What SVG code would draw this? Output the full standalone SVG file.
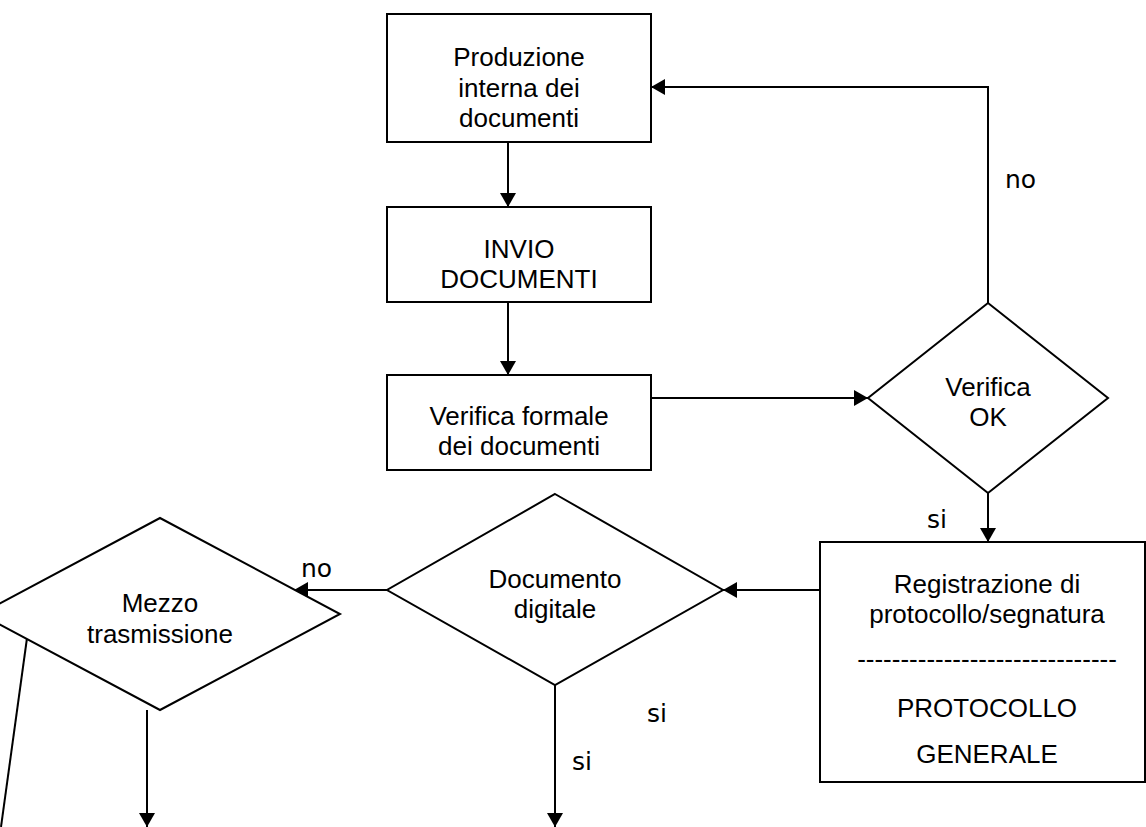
<svg xmlns="http://www.w3.org/2000/svg" width="1146" height="827" viewBox="0 0 1146 827">
<defs>
<style>
.n{fill:#fff;stroke:#000;stroke-width:2}
.c{fill:none;stroke:#000;stroke-width:2}
.t{font-family:"Liberation Sans",Arial,sans-serif;font-size:26px;fill:#000;text-anchor:middle}
.l{font-family:"DejaVu Sans",sans-serif;font-size:25px;fill:#000}
</style>
<marker id="ah" viewBox="0 0 14 16" refX="14" refY="8" markerWidth="14" markerHeight="16" markerUnits="userSpaceOnUse" orient="auto">
<path d="M0,0 L14,8 L0,16 Z" fill="#000"/>
</marker>
</defs>
<rect width="1146" height="827" fill="#fff"/>
<g id="connectors">
<line class="c" x1="508" y1="142" x2="508" y2="207" marker-end="url(#ah)"/>
<line class="c" x1="508" y1="302" x2="508" y2="375" marker-end="url(#ah)"/>
<line class="c" x1="651" y1="398" x2="868" y2="398" marker-end="url(#ah)"/>
<polyline class="c" points="988,303 988,87 651,87" marker-end="url(#ah)"/>
<line class="c" x1="988" y1="493" x2="988" y2="542" marker-end="url(#ah)"/>
<line class="c" x1="820" y1="590" x2="723" y2="590" marker-end="url(#ah)"/>
<line class="c" x1="387" y1="590" x2="294" y2="590" marker-end="url(#ah)"/>
<line class="c" x1="555" y1="685" x2="555" y2="827" marker-end="url(#ah)"/>
<line class="c" x1="147" y1="710" x2="147" y2="827" marker-end="url(#ah)"/>
<line class="c" x1="27" y1="638" x2="1" y2="827"/>
<text class="l" x="1005" y="188">no</text>
<text class="l" x="927" y="528">si</text>
<text class="l" x="301" y="577">no</text>
<text class="l" x="647" y="722">si</text>
<text class="l" x="572" y="770">si</text>
</g>
<g id="produzione">
<rect class="n" x="387" y="14" width="264" height="128"/>
<text class="t" x="519" y="66">Produzione</text>
<text class="t" x="519" y="97">interna dei</text>
<text class="t" x="519" y="127">documenti</text>
</g>
<g id="invio">
<rect class="n" x="387" y="207" width="264" height="95"/>
<text class="t" x="519" y="258">INVIO</text>
<text class="t" x="519" y="288">DOCUMENTI</text>
</g>
<g id="verifica-formale">
<rect class="n" x="387" y="375" width="264" height="95"/>
<text class="t" x="519" y="425">Verifica formale</text>
<text class="t" x="519" y="455">dei documenti</text>
</g>
<g id="verifica-ok">
<polygon class="n" points="988,303 1108,398 988,493 868,398"/>
<text class="t" x="988" y="396">Verifica</text>
<text class="t" x="988" y="426">OK</text>
</g>
<g id="registrazione">
<rect class="n" x="820" y="542" width="325" height="240"/>
<text class="t" x="987" y="593">Registrazione di</text>
<text class="t" x="987" y="623">protocollo/segnatura</text>
<text class="t" x="987" y="668">------------------------------</text>
<text class="t" x="987" y="717">PROTOCOLLO</text>
<text class="t" x="987" y="763">GENERALE</text>
</g>
<g id="documento-digitale">
<polygon class="n" points="555,494 723,590 555,685 387,590"/>
<text class="t" x="555" y="588">Documento</text>
<text class="t" x="555" y="618">digitale</text>
</g>
<g id="mezzo-trasmissione">
<polygon class="n" points="160,518 340,614 160,710 -20,614"/>
<text class="t" x="160" y="612">Mezzo</text>
<text class="t" x="160" y="643">trasmissione</text>
</g>
</svg>
